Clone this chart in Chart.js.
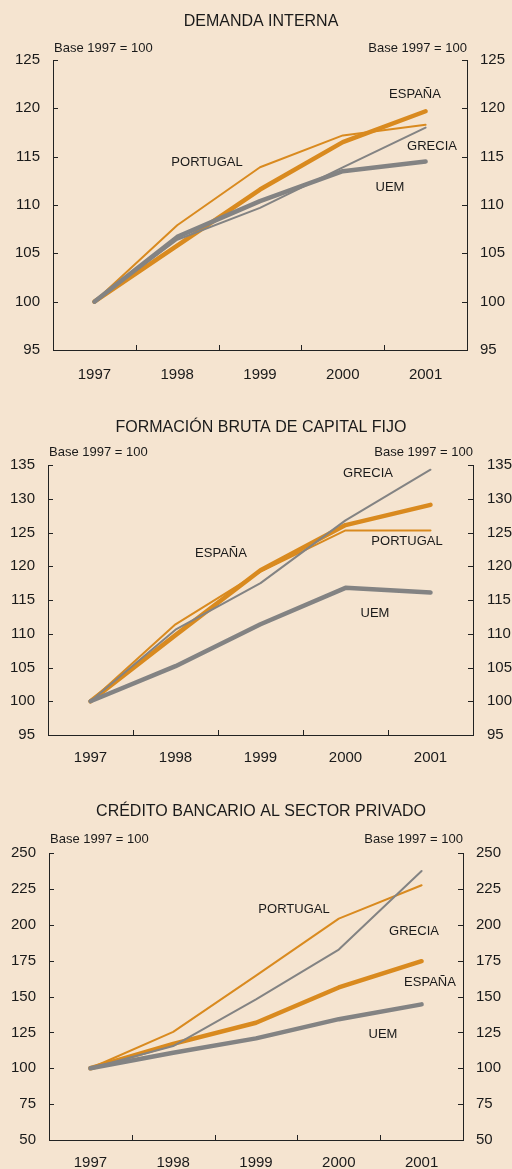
<!DOCTYPE html>
<html>
<head>
<meta charset="utf-8">
<script src="https://cdn.jsdelivr.net/npm/chart.js@4.4.1/dist/chart.umd.min.js"></script>
<style>
  html, body { margin: 0; padding: 0; background: #F5E4D0; }
  body { width: 512px; height: 1169px; position: relative; overflow: hidden; }
  canvas { position: absolute; left: 0; }
</style>
</head>
<body>
<canvas id="c1" width="512" height="390" style="top:0px"></canvas>
<canvas id="c2" width="512" height="390" style="top:390px"></canvas>
<canvas id="c3" width="512" height="389" style="top:780px"></canvas>
<script>
// ---- data ----
const years = ['1997', '1998', '1999', '2000', '2001'];

const demandaEspana   = [100, 105.8, 111.6, 116.5, 119.7];
const demandaPortugal = [100, 107.9, 113.9, 117.2, 118.3];
const demandaGrecia   = [100, 106.4, 109.7, 113.9, 118.0];
const demandaUem      = [100, 106.7, 110.4, 113.5, 114.5];
const demandaTicks    = [95, 125, 5];

const fbcfEspana   = [100, 109.8, 119.4, 126.1, 129.1];
const fbcfPortugal = [100, 111.4, 119.2, 125.3, 125.3];
const fbcfGrecia   = [100, 110.6, 117.5, 126.8, 134.3];
const fbcfUem      = [100, 105.2, 111.4, 116.8, 116.1];
const fbcfTicks    = [95, 135, 5];

const creditoEspana   = [100, 117.0, 131.7, 156.3, 174.6];
const creditoPortugal = [100, 125.4, 164.5, 204.3, 227.5];
const creditoGrecia   = [100, 115.5, 148.0, 182.7, 237.5];
const creditoUem      = [100, 110.8, 120.8, 134.2, 144.5];
const creditoTicks    = [50, 250, 25];

const titles = ['DEMANDA INTERNA', 'FORMACIÓN BRUTA DE CAPITAL FIJO', 'CRÉDITO BANCARIO AL SECTOR PRIVADO'];
const baseLabel = 'Base 1997 = 100';

// ---- styles ----
const ORANGE = '#D98A1F';
const GRAY = '#838383';
const AXIS = '#222222';
const TEXT = '#1a1a1a';
const FONT = "'Liberation Sans', Arial, sans-serif";

function series(label, data, color, width) {
  return { label, data, borderColor: color, backgroundColor: color, borderWidth: width,
           pointRadius: 0, tension: 0, borderCapStyle: 'round', borderJoinStyle: 'round', fill: false };
}

function makePanel(id, layoutBox, title, titleY, baseY, tickDef, sets, labels) {
  const canvas = document.getElementById(id);
  const W = canvas.width, H = canvas.height;
  const decor = {
    id: 'decor' + id,
    afterDraw(chart) {
      const { ctx, chartArea: a, scales } = chart;
      ctx.save();
      // inside tick marks
      ctx.strokeStyle = AXIS; ctx.lineWidth = 1;
      const ys = scales.y;
      ctx.beginPath();
      ys.ticks.forEach(t => {
        const p = Math.round(ys.getPixelForValue(t.value)) + 0.5;
        ctx.moveTo(a.left, p); ctx.lineTo(a.left + 5, p);
        ctx.moveTo(a.right - 5, p); ctx.lineTo(a.right, p);
      });
      const xs = scales.x;
      for (let i = 1; i < years.length; i++) {
        const p = Math.round(xs.getPixelForValue(i - 0.5)) + 0.5;
        ctx.moveTo(p, a.bottom); ctx.lineTo(p, a.bottom - 5);
      }
      ctx.stroke();
      // titles
      ctx.fillStyle = TEXT;
      ctx.textBaseline = 'middle';
      ctx.textAlign = 'center';
      ctx.font = '16px ' + FONT;
      ctx.fillText(title, 261, titleY);
      ctx.font = '13px ' + FONT;
      ctx.textAlign = 'left';
      ctx.fillText(baseLabel, a.left + 1, baseY);
      ctx.textAlign = 'right';
      ctx.fillText(baseLabel, a.right, baseY);
      // series labels
      ctx.textAlign = 'center';
      ctx.font = '13px ' + FONT;
      labels.forEach(l => ctx.fillText(l[0], l[1], l[2]));
      ctx.restore();
    }
  };
  const yTicks = { color: TEXT, font: { family: FONT, size: 15 }, stepSize: tickDef[2], padding: 13 };
  return new Chart(canvas, {
    type: 'line',
    data: { labels: years, datasets: sets },
    options: {
      responsive: false, animation: false, devicePixelRatio: 1,
      layout: { padding: { top: layoutBox.top, left: 0, right: 0, bottom: 0 } },
      plugins: { legend: { display: false }, tooltip: { enabled: false }, title: { display: false } },
      scales: {
        x: {
          offset: true,
          grid: { display: true, drawOnChartArea: false, drawTicks: false },
          border: { display: true, color: AXIS, width: 1 },
          ticks: { color: TEXT, font: { family: FONT, size: 15 }, padding: layoutBox.xpad, maxRotation: 0, autoSkip: false },
          afterFit: s => { s.height = H - layoutBox.bottom; }
        },
        y: {
          position: 'left', min: tickDef[0], max: tickDef[1],
          grid: { display: true, drawOnChartArea: false, drawTicks: false },
          border: { display: true, color: AXIS, width: 1 },
          ticks: yTicks,
          afterFit: s => { s.width = layoutBox.left; }
        },
        y2: {
          position: 'right', min: tickDef[0], max: tickDef[1],
          grid: { display: true, drawOnChartArea: false, drawTicks: false },
          border: { display: true, color: AXIS, width: 1 },
          ticks: Object.assign({}, yTicks, { padding: layoutBox.rpad }),
          afterFit: s => { s.width = W - layoutBox.right; }
        }
      }
    },
    plugins: [decor]
  });
}

makePanel('c1', { top: 60, bottom: 350, left: 53, right: 467, xpad: 16, rpad: 13 },
  titles[0], 22, 48, demandaTicks,
  [ series('UEM', demandaUem, GRAY, 4.5),
    series('GRECIA', demandaGrecia, GRAY, 2),
    series('ESPAÑA', demandaEspana, ORANGE, 4.5),
    series('PORTUGAL', demandaPortugal, ORANGE, 2) ],
  [ ['ESPAÑA', 415, 94], ['GRECIA', 432, 146], ['PORTUGAL', 207, 162], ['UEM', 390, 187] ]);

makePanel('c2', { top: 75, bottom: 345, left: 48, right: 473, xpad: 14, rpad: 14 },
  titles[1], 37.5, 62, fbcfTicks,
  [ series('UEM', fbcfUem, GRAY, 4.5),
    series('GRECIA', fbcfGrecia, GRAY, 2),
    series('ESPAÑA', fbcfEspana, ORANGE, 4.5),
    series('PORTUGAL', fbcfPortugal, ORANGE, 2) ],
  [ ['GRECIA', 368, 83], ['PORTUGAL', 407, 151], ['ESPAÑA', 221, 163], ['UEM', 375, 223] ]);

makePanel('c3', { top: 73, bottom: 360, left: 49, right: 463, xpad: 14, rpad: 13 },
  titles[2], 32, 59, creditoTicks,
  [ series('UEM', creditoUem, GRAY, 4.5),
    series('GRECIA', creditoGrecia, GRAY, 2),
    series('ESPAÑA', creditoEspana, ORANGE, 4.5),
    series('PORTUGAL', creditoPortugal, ORANGE, 2) ],
  [ ['PORTUGAL', 294, 129], ['GRECIA', 414, 151], ['ESPAÑA', 430, 202], ['UEM', 383, 254] ]);
</script>
</body>
</html>
